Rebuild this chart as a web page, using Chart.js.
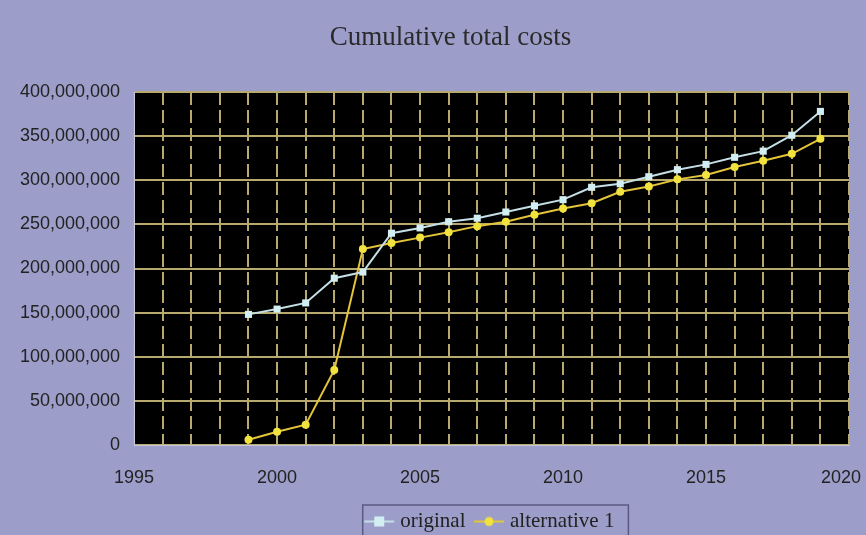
<!DOCTYPE html>
<html>
<head>
<meta charset="utf-8">
<script src="https://cdn.jsdelivr.net/npm/chart.js@4.4.0/dist/chart.umd.min.js"></script>
<style>
  html, body { margin: 0; padding: 0; background: #9d9dca; }
  #wrap { width: 866px; height: 535px; }
</style>
</head>
<body>
<div id="wrap"><canvas id="c" width="866" height="535"></canvas></div>
<script>
const years = [1999, 2000, 2001, 2002, 2003, 2004, 2005, 2006, 2007, 2008, 2009, 2010, 2011, 2012, 2013, 2014, 2015, 2016, 2017, 2018, 2019];
const originalCosts = [148e6, 154e6, 161e6, 189e6, 196e6, 240e6, 246e6, 253e6, 257e6, 264e6, 271e6, 278e6, 292e6, 296e6, 304e6, 312e6, 318e6, 326e6, 333e6, 351e6, 378e6];
const alternative1Costs = [6e6, 15e6, 23e6, 85e6, 222e6, 229e6, 235e6, 241e6, 248e6, 253e6, 261e6, 268e6, 274e6, 287e6, 293e6, 301e6, 306e6, 315e6, 322e6, 330e6, 347e6];
const xTickLabels = [1995, 2000, 2005, 2010, 2015, 2020];
const yTickValues = [0, 50e6, 100e6, 150e6, 200e6, 250e6, 300e6, 350e6, 400e6];
const seriesNames = ['original', 'alternative 1'];

const colOrigLine = '#c4dfe6';
const colOrigPoint = '#d2eef2';
const colAltLine = '#e3c43a';
const colAltPoint = '#f2e23e';

function legendIcon(lineColor, pointColor, shape) {
  const cv = document.createElement('canvas');
  cv.width = 32; cv.height = 12;
  const g = cv.getContext('2d');
  g.strokeStyle = lineColor; g.lineWidth = 2;
  g.beginPath(); g.moveTo(1, 6); g.lineTo(31, 6); g.stroke();
  g.fillStyle = pointColor;
  if (shape === 'rect') { g.fillRect(11, 1, 10, 10); }
  else { g.beginPath(); g.arc(16, 6, 4.5, 0, Math.PI * 2); g.fill(); }
  return cv;
}

const bgPlugin = {
  id: 'bg',
  afterLayout(chart) {
    if (chart.titleBlock) { chart.titleBlock.left += 46; }
  },
  beforeDraw(chart) {
    const { ctx, chartArea: a } = chart;
    ctx.save();
    ctx.fillStyle = '#9d9dca';
    ctx.fillRect(0, 0, chart.width, chart.height);
    ctx.fillStyle = '#000000';
    ctx.fillRect(a.left, a.top, a.right - a.left, a.bottom - a.top);
    ctx.restore();
    // keep the last x tick label inside the canvas
    const xs = chart.scales.x;
    const items = xs.getLabelItems(a);
    items.forEach(it => {
      if (it.label === String(xTickLabels[xTickLabels.length - 1])) {
        it.options.translation[0] = Math.min(it.options.translation[0], chart.width - 25);
      }
    });
  },
  afterDraw(chart) {
    const lg = chart.legend;
    if (!lg || !lg.legendHitBoxes || !lg.legendHitBoxes.length) return;
    const boxes = lg.legendHitBoxes;
    let l = Infinity, r = -Infinity, t = Infinity, b = -Infinity;
    boxes.forEach(h => { l = Math.min(l, h.left); r = Math.max(r, h.left + h.width); t = Math.min(t, h.top); b = Math.max(b, h.top + h.height); });
    const ctx = chart.ctx;
    ctx.save();
    ctx.strokeStyle = '#5a5a80';
    ctx.lineWidth = 1.5;
    ctx.strokeRect(l - 6, t - 6, r - l + 20, b - t + 14);
    ctx.restore();
  }
};

new Chart(document.getElementById('c'), {
  type: 'line',
  data: {
    datasets: [
      {
        label: seriesNames[0],
        data: years.map((y, i) => ({ x: y, y: originalCosts[i] })),
        borderColor: colOrigLine,
        backgroundColor: colOrigPoint,
        borderWidth: 2,
        pointStyle: 'rect',
        pointRadius: 5,
        pointBorderWidth: 0,
        pointBackgroundColor: colOrigPoint,
        tension: 0
      },
      {
        label: seriesNames[1],
        data: years.map((y, i) => ({ x: y, y: alternative1Costs[i] })),
        borderColor: colAltLine,
        backgroundColor: colAltPoint,
        borderWidth: 2,
        pointStyle: 'circle',
        pointRadius: 4,
        pointBorderWidth: 0,
        pointBackgroundColor: colAltPoint,
        tension: 0
      }
    ]
  },
  options: {
    responsive: false,
    animation: false,
    devicePixelRatio: 1,
    layout: { padding: { left: 6, right: 17, top: 0, bottom: -7 } },
    plugins: {
      title: {
        display: true,
        text: 'Cumulative total costs',
        color: '#2a2a2a',
        font: { family: "'Liberation Serif', 'DejaVu Serif', serif", size: 27, weight: 'normal' },
        padding: { top: 22, bottom: 37.6 }
      },
      legend: {
        position: 'bottom',
        fullSize: false,
        labels: {
          color: '#222222',
          font: { family: "'Liberation Serif', 'DejaVu Serif', serif", size: 21 },
          usePointStyle: true,
          padding: 13,
          generateLabels(chart) {
            return chart.data.datasets.map((ds, i) => ({
              text: ds.label,
              datasetIndex: i,
              fontColor: '#222222',
              pointStyle: legendIcon(ds.borderColor, ds.pointBackgroundColor, ds.pointStyle),
              hidden: false,
              lineWidth: 0,
              strokeStyle: 'transparent',
              fillStyle: 'transparent'
            }));
          }
        }
      },
      tooltip: { enabled: false }
    },
    scales: {
      x: {
        type: 'linear',
        min: xTickLabels[0],
        max: xTickLabels[xTickLabels.length - 1],
        afterBuildTicks(scale) {
          const t = [];
          for (let v = xTickLabels[0]; v <= xTickLabels[xTickLabels.length - 1]; v++) t.push({ value: v });
          scale.ticks = t;
        },
        afterFit(scale) {
          scale.paddingRight = 0;
          scale.height = 53;
        },
        ticks: {
          autoSkip: false,
          maxRotation: 0,
          color: '#222222',
          font: { family: "'Liberation Sans', Arial, sans-serif", size: 18 },
          padding: 22,
          callback: (v) => xTickLabels.includes(v) ? String(v) : ''
        },
        grid: { color: '#b8aa6e', lineWidth: 2, drawTicks: false },
        border: { display: true, color: '#c8c8d8', width: 1, dash: [13, 5] }
      },
      y: {
        min: 0,
        max: 400e6,
        afterBuildTicks(scale) { scale.ticks = yTickValues.map(v => ({ value: v })); },
        ticks: {
          color: '#222222',
          font: { family: "'Liberation Sans', Arial, sans-serif", size: 18 },
          padding: 14,
          callback: (v) => Number(v).toLocaleString('en-US')
        },
        grid: { color: '#b8aa6e', lineWidth: 2, drawTicks: false },
        border: { display: true, color: '#c8c8d8', width: 1 }
      }
    }
  },
  plugins: [bgPlugin]
});
</script>
</body>
</html>
